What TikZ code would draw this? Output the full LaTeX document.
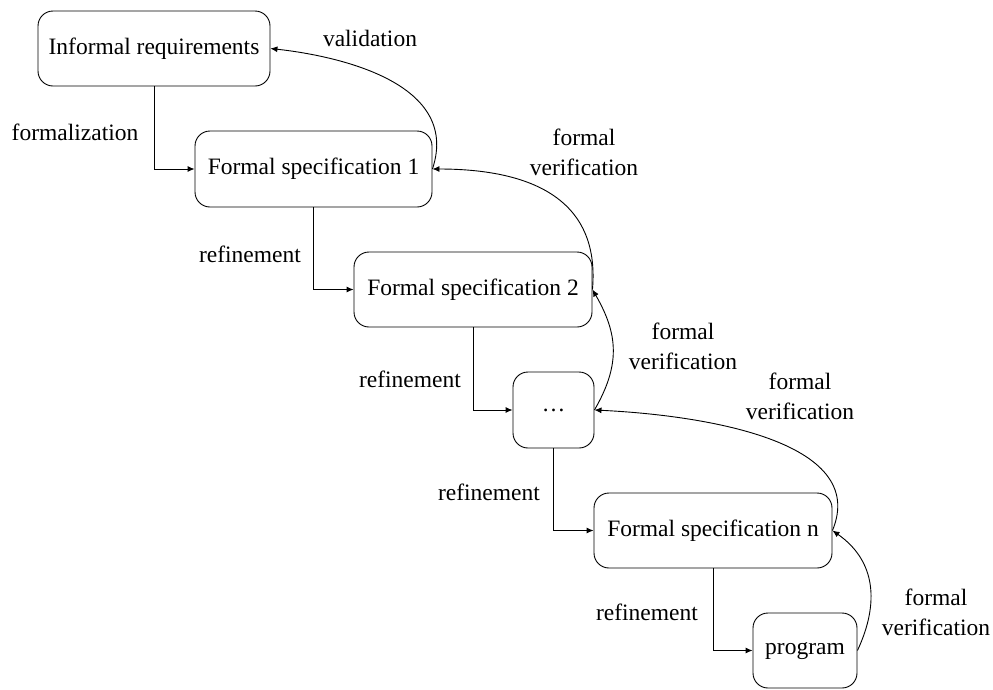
\documentclass[tikz,border=0pt]{standalone}
\usepackage{fontspec}
\setmainfont{Liberation Serif}
\newfontfamily\labelfont{Liberation Serif}
\usetikzlibrary{arrows.meta}
\begin{document}
\begin{tikzpicture}[x=1pt,y=-1pt,
  every node/.style={font=\labelfont\fontsize{23.5}{30}\selectfont},
  stage/.style={draw, line width=0.9pt, rounded corners=15pt, inner sep=0pt},
  lbl/.style={align=center, inner sep=0pt},
  flow/.style={line width=0.9pt, -{Latex[length=7pt,width=6pt]}}]
\useasboundingbox (0,0) rectangle (993,689);

% process stages
\node[stage, minimum width=232pt, minimum height=75pt] (ir)   at (154,48.5)  {Informal requirements};
\node[stage, minimum width=237pt, minimum height=76pt] (fs1)  at (313.5,169) {Formal specification 1};
\node[stage, minimum width=238pt, minimum height=75pt] (fs2)  at (473,289.5) {Formal specification 2};
\node[stage, minimum width=81pt,  minimum height=76pt] (dots) at (553.5,410) {\dots};
\node[stage, minimum width=238pt, minimum height=75pt] (fsn)  at (713,530.5) {Formal specification n};
\node[stage, minimum width=104pt, minimum height=75pt] (prog) at (805,650.5) {program};

% labels
\node[lbl] (lform) at (75,132)  {formalization};
\node[lbl] (lval)  at (370,38)  {validation};
\node[lbl] (lr1)   at (250,254) {refinement};
\node[lbl] (lr2)   at (410,379) {refinement};
\node[lbl] (lr3)   at (489,492) {refinement};
\node[lbl] (lr4)   at (647,612) {refinement};
\node[lbl] (lv1)   at (584,152) {formal\\verification};
\node[lbl] (lv2)   at (683,346) {formal\\verification};
\node[lbl] (lv3)   at (800,396) {formal\\verification};
\node[lbl] (lv4)   at (936,612) {formal\\verification};

% downward steps
\draw[flow] (ir.south)   |- (fs1.west);
\draw[flow] (fs1.south)  |- (fs2.west);
\draw[flow] (fs2.south)  |- (dots.west);
\draw[flow] (dots.south) |- (fsn.west);
\draw[flow] (fsn.south)  |- (prog.west);

% feedback arcs
\draw[flow] (fs1.east)  .. controls (462,80) and (330,55) .. (ir.east);
\draw[flow] (fs2.east)  to[out=85, in=0, looseness=1.2]   (fs1.east);
\draw[flow] (dots.east) to[out=60, in=-60, looseness=1.1] (fs2.east);
\draw[flow] (fsn.east)  .. controls (870,440) and (700,415) .. (dots.east);
\draw[flow] (prog.east) to[out=65, in=-35, looseness=1.1] (fsn.east);
\end{tikzpicture}
\end{document}
